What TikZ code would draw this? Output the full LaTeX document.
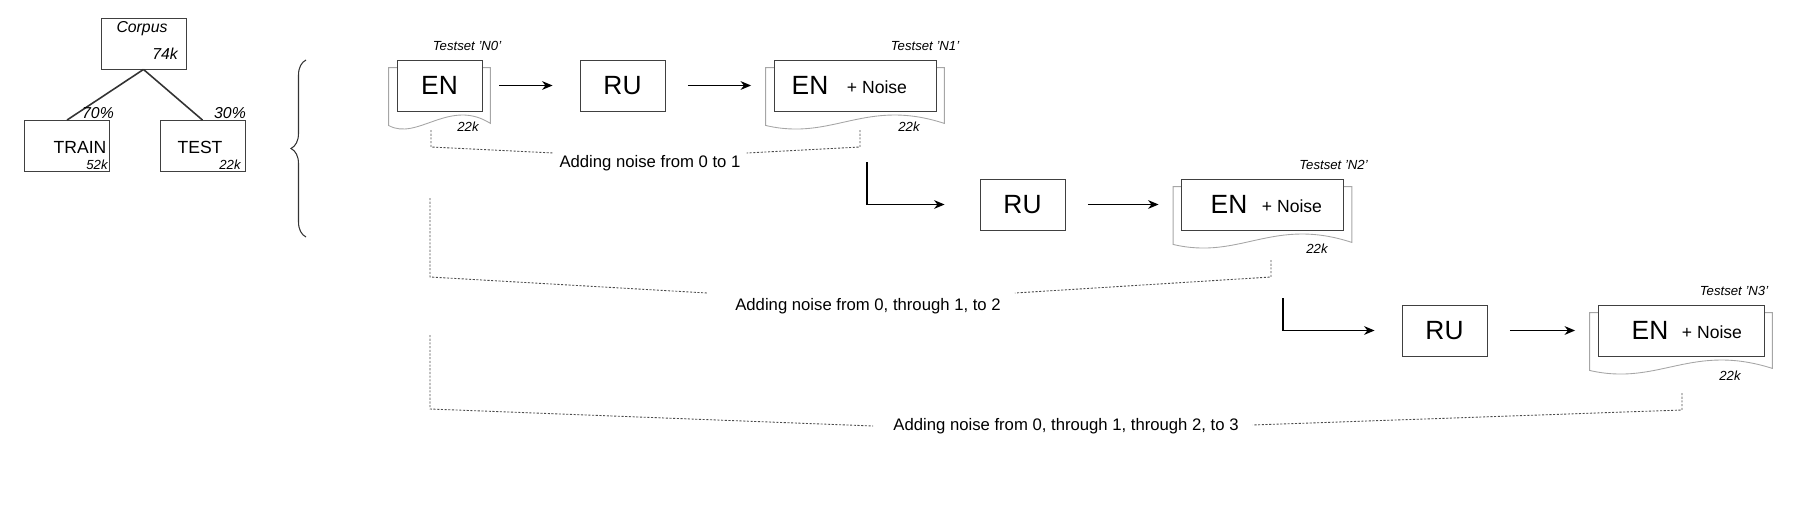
\documentclass[tikz,border=0pt]{standalone}
\usepackage{fontspec}
\setmainfont{Liberation Sans}
\usetikzlibrary{arrows.meta,calc,decorations.pathreplacing}

\tikzset{
	box/.style={draw=black!75, fill=white, line width=0.5pt, minimum width=1.7cm, minimum height=1.02cm, inner sep=0pt},
	wbox/.style={box, minimum width=3.24cm},
	big/.style={font=\fontsize{15}{17}\selectfont},
	mid/.style={font=\fontsize{10}{12}\selectfont},
	tiny/.style={font=\fontsize{7.5}{9}\selectfont\itshape},
	flow/.style={->, >={Stealth[length=6pt,width=5pt]}, line width=0.7pt, shorten <=0.45cm, shorten >=0.45cm},
	noise/.style={densely dashed, dash pattern=on 1.2pt off 0.9pt, black!70, line width=0.5pt},
	doc/.style={draw=black!35, line width=0.5pt}
}
\newcommand{\docback}[1]{% grey document outline behind a box
	\draw[doc] ($(#1.north west)+(-8,8)$) -- ($(#1.north east)+(8,8)$)
		-- ($(#1.south east)+(8,12)$)
		.. controls ($(#1.south)+(10,-14)$) and ($(#1.south)+(-22,30)$) .. ($(#1.south west)+(-8,14)$)
		-- cycle;}

\begin{document}
\begin{tikzpicture}[x=0.02cm,y=-0.02cm]
	\useasboundingbox (0,0) rectangle (1810,524);

	% corpus split
	\node[box, minimum height=1.02cm] (corpus) at (143.5,43.5) {};
	\node[mid, font=\fontsize{9}{11}\selectfont\itshape] (corpusT) at (142,29) {Corpus};
	\node[tiny, font=\fontsize{9}{11}\selectfont\itshape] (corpusK) at (165,54) {74k};
	\node[box] (train) at (67,146) {};
	\node[mid] (trainT) at (80,147) {TRAIN};
	\node[tiny] (trainK) at (97,165) {52k};
	\node[box] (test) at (202.5,146) {};
	\node[mid] (testT) at (200,147) {TEST};
	\node[tiny] (testK) at (230,165) {22k};
	\draw[line width=0.9pt, black!80] (corpus.south) -- (train.north);
	\draw[line width=0.9pt, black!80] (corpus.south) -- (test.north);
	\node[tiny, font=\fontsize{9}{11}\selectfont\itshape] (p70) at (98,113) {70\%};
	\node[tiny, font=\fontsize{9}{11}\selectfont\itshape] (p30) at (230,113) {30\%};

	\draw[decorate, decoration={brace, amplitude=0.3cm}, line width=0.6pt, black!80] (306,237) -- (306,60);

	% row 0 / 1
	\node[box, big] (en0) at (439.5,85.5) {EN};
	\node[box, big] (ru1) at (622.5,85.5) {RU};
	\node[wbox] (en1) at (855,85.5) {};
	\docback{en0}
	\docback{en1}
	\node[box, big] at (en0) {EN};
	\node[wbox] (en1b) at (en1) {};
	\node[big] (en1t) at (810,85.5) {EN};
	\node[mid] (n1t) at (877,87) {+ Noise};
	\node[tiny, anchor=south east] (ts0) at ($(en0.north east)+(25,-3)$) {Testset 'N0'};
	\node[tiny, anchor=south east] (ts1) at ($(en1.north east)+(29,-3)$) {Testset 'N1'};
	\node[tiny] (k0) at (468,127) {22k};
	\node[tiny] (k1) at (909,127) {22k};
	\draw[flow, shorten <=0.34cm, shorten >=0.54cm] (en0) -- (ru1);
	\draw[flow] (ru1) -- (en1);

	% row 2
	\coordinate (up2) at (867,162);
	\node[box, big] (ru2) at (1022.5,204.5) {RU};
	\node[wbox] (en2) at (1262.5,204.5) {};
	\docback{en2}
	\node[wbox] (en2b) at (en2) {};
	\node[big] (en2t) at (1229,204.5) {EN};
	\node[mid] (n2t) at (1292,206) {+ Noise};
	\node[tiny, anchor=south east] (ts2) at ($(en2.north east)+(30,-3)$) {Testset 'N2'};
	\node[tiny] (k2) at (1317,249) {22k};
	\draw[flow, shorten <=0pt, shorten >=0.7cm] (up2) |- (ru2);
	\draw[flow] (ru2) -- (en2);

	% row 3
	\coordinate (up3) at (1283,298);
	\node[box, big] (ru3) at (1444.5,330.5) {RU};
	\node[wbox, minimum width=3.32cm] (en3) at (1681,330.5) {};
	\docback{en3}
	\node[wbox, minimum width=3.32cm] (en3b) at (en3) {};
	\node[big] (en3t) at (1650,330.5) {EN};
	\node[mid] (n3t) at (1712,332) {+ Noise};
	\node[tiny, anchor=south east] (ts3) at ($(en3.north east)+(10,-3)$) {Testset 'N3'};
	\node[tiny] (k3) at (1730,376) {22k};
	\draw[flow, shorten <=0pt, shorten >=0.54cm] (up3) |- (ru3);
	\draw[flow] (ru3) -- (en3);

	% noise ranges
	\node[mid, font=\fontsize{9.5}{11}\selectfont] (add1) at (650,163) {Adding noise from 0 to 1};
	\node[mid, font=\fontsize{9.5}{11}\selectfont] (add2) at (868,306) {Adding noise from 0, through 1, to 2};
	\node[mid, font=\fontsize{9.5}{11}\selectfont] (add3) at (1066,426) {Adding noise from 0, through 1, through 2, to 3};
	\coordinate (a1l) at (431,130);
	\coordinate (a1r) at (860,130);
	\coordinate (a2l) at (430,198);
	\coordinate (a2r) at (1271,260);
	\coordinate (a3l) at (430,335);
	\coordinate (a3r) at (1682,393);
	\draw[noise] (a1l) -- (431,147) -- (add1.west |- 0,153);
	\draw[noise] (a1r) -- (860,147) -- (add1.east |- 0,153);
	\draw[noise] (a2l) -- (430,277) -- ($(add2.west)+(-22,-13)$);
	\draw[noise] (a2r) -- (1271,277) -- ($(add2.east)+(8,-13)$);
	\draw[noise] (a3l) -- (430,409) -- ($(add3.west)+(-14,0)$);
	\draw[noise] (a3r) -- (1682,410) -- ($(add3.east)+(8,-1)$);
\end{tikzpicture}
\end{document}
